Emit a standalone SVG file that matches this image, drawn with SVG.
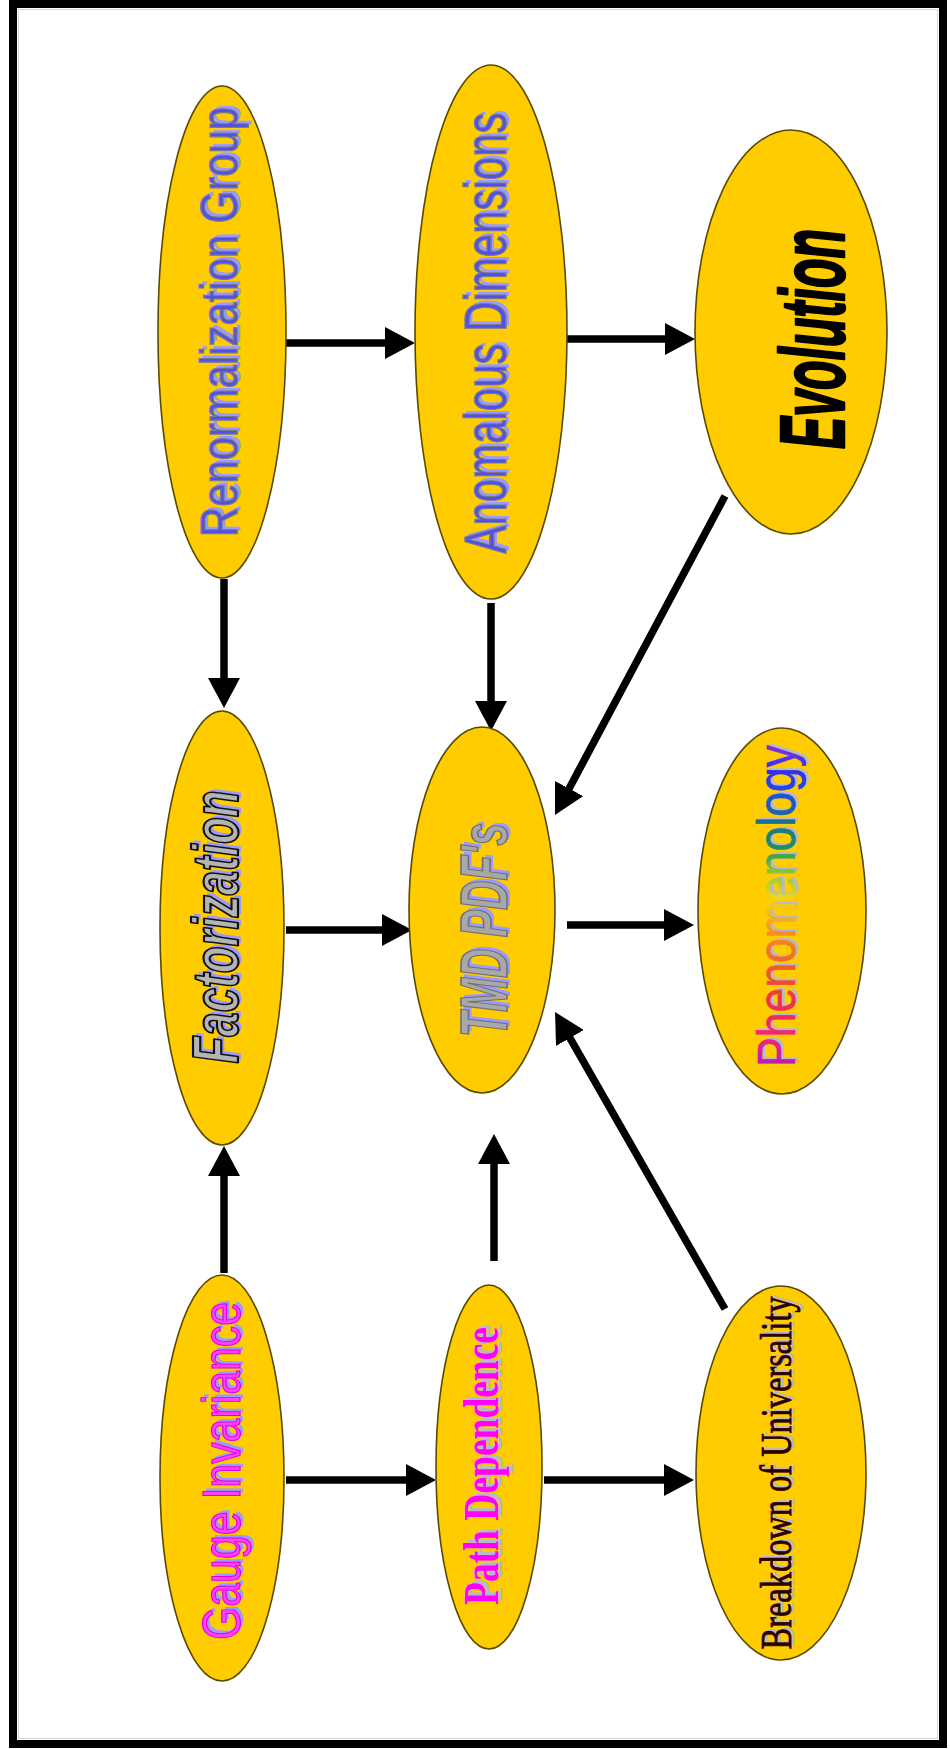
<svg xmlns="http://www.w3.org/2000/svg" width="950" height="1749" viewBox="0 0 950 1749">
<defs>
<style>
.node{fill:#ffcc00;stroke:#5a4a00;stroke-width:1.6}
.conn{stroke:#000;stroke-width:7.5;fill:none;marker-end:url(#ah)}
.arial{font-family:"Liberation Sans",Arial,sans-serif}
.times{font-family:"Liberation Serif","Times New Roman",serif}
.blue{fill:#5050e8;stroke:#7a7a8a;stroke-width:1.4}
.bshadow{fill:#9a9aff}
.gshadow{fill:#b8b8c8}
</style>
<marker id="ah" markerUnits="userSpaceOnUse" markerWidth="30" markerHeight="32" viewBox="0 0 30 32" refX="20" refY="16" orient="auto">
<path d="M0,0 L30,16 L0,32 z" fill="#000"/>
</marker>
<linearGradient id="rainbow" x1="0" y1="0" x2="1" y2="0">
<stop offset="0" stop-color="#b818c0"/>
<stop offset="0.1" stop-color="#f02878"/>
<stop offset="0.2" stop-color="#f03048"/>
<stop offset="0.3" stop-color="#f05a28"/>
<stop offset="0.42" stop-color="#f89020"/>
<stop offset="0.52" stop-color="#f0d820"/>
<stop offset="0.6" stop-color="#90c838"/>
<stop offset="0.68" stop-color="#209060"/>
<stop offset="0.76" stop-color="#1a7090"/>
<stop offset="0.84" stop-color="#2050e0"/>
<stop offset="0.92" stop-color="#3030f0"/>
<stop offset="1" stop-color="#8830d0"/>
</linearGradient>
</defs>
<rect x="0" y="0" width="950" height="1749" fill="#fff"/>
<rect x="13" y="4" width="930" height="1740" fill="none" stroke="#000" stroke-width="8"/>
<rect x="18.5" y="9.5" width="919" height="1729" fill="none" stroke="#d8d8d8" stroke-width="1"/>

<g id="connectors">
<line class="conn" x1="286" y1="343" x2="405" y2="343"/>
<line class="conn" x1="567" y1="339" x2="685" y2="339"/>
<line class="conn" x1="224" y1="579" x2="224" y2="698"/>
<line class="conn" x1="491" y1="603" x2="491" y2="721"/>
<line class="conn" x1="725" y1="496" x2="559.7" y2="806.2"/>
<line class="conn" x1="286" y1="930" x2="402" y2="930"/>
<line class="conn" x1="567" y1="925" x2="684" y2="925"/>
<line class="conn" x1="224" y1="1273" x2="224" y2="1156"/>
<line class="conn" x1="494" y1="1261" x2="494" y2="1144"/>
<line class="conn" x1="725" y1="1309" x2="560" y2="1020.7"/>
<line class="conn" x1="286" y1="1480" x2="426" y2="1480"/>
<line class="conn" x1="544" y1="1480" x2="684" y2="1480"/>
</g>

<g id="renormalization-group">
<ellipse class="node" cx="222" cy="332" rx="64" ry="246"/>
<g transform="translate(237,322) rotate(-90)" class="arial" font-size="52">
<text class="bshadow" x="3" y="3" text-anchor="middle" textLength="430" lengthAdjust="spacingAndGlyphs">Renormalization Group</text>
<text class="blue" x="0" y="0" text-anchor="middle" textLength="430" lengthAdjust="spacingAndGlyphs">Renormalization Group</text>
</g>
</g>

<g id="anomalous-dimensions">
<ellipse class="node" cx="491" cy="332" rx="76" ry="267"/>
<g transform="translate(506,333) rotate(-90)" class="arial" font-size="60">
<text class="bshadow" x="3" y="3" text-anchor="middle" textLength="441" lengthAdjust="spacingAndGlyphs">Anomalous Dimensions</text>
<text class="blue" x="0" y="0" text-anchor="middle" textLength="441" lengthAdjust="spacingAndGlyphs">Anomalous Dimensions</text>
</g>
</g>

<g id="evolution">
<ellipse class="node" cx="791" cy="332" rx="96" ry="202"/>
<g transform="translate(844,339) rotate(-90)" class="arial" font-size="90" font-weight="bold" font-style="italic">
<text x="0" y="0" fill="#000" stroke="#000" stroke-width="2.5" stroke-linejoin="round" text-anchor="middle" textLength="220" lengthAdjust="spacingAndGlyphs">Evolution</text>
</g>
</g>

<g id="factorization">
<ellipse class="node" cx="222" cy="928" rx="62" ry="217"/>
<g transform="translate(238,927) rotate(-90)" class="arial" font-size="64" font-weight="bold" font-style="italic">
<text class="bshadow" x="3" y="3" text-anchor="middle" textLength="273" lengthAdjust="spacingAndGlyphs">Factorization</text>
<text x="0" y="0" fill="#b4b4b4" stroke="#111" stroke-width="2.2" stroke-linejoin="round" text-anchor="middle" textLength="273" lengthAdjust="spacingAndGlyphs">Factorization</text>
</g>
</g>

<g id="tmd-pdfs">
<ellipse class="node" cx="482" cy="910" rx="73" ry="183"/>
<g transform="translate(507,930) rotate(-90)" class="arial" font-size="66" font-weight="bold" font-style="italic">
<text class="bshadow" x="3" y="3" text-anchor="middle" textLength="214" lengthAdjust="spacingAndGlyphs">TMD PDF's</text>
<text x="0" y="0" fill="#a8a8a8" stroke="#707070" stroke-width="1.6" text-anchor="middle" textLength="214" lengthAdjust="spacingAndGlyphs">TMD PDF's</text>
</g>
</g>

<g id="phenomenology">
<ellipse class="node" cx="782" cy="911" rx="84" ry="183"/>
<g transform="translate(795,906) rotate(-90)" class="arial" font-size="53">
<text class="gshadow" x="2" y="3" text-anchor="middle" textLength="322" lengthAdjust="spacingAndGlyphs">Phenomenology</text>
<text x="0" y="0" fill="url(#rainbow)" stroke="url(#rainbow)" stroke-width="0.6" text-anchor="middle" textLength="322" lengthAdjust="spacingAndGlyphs">Phenomenology</text>
</g>
</g>

<g id="gauge-invariance">
<ellipse class="node" cx="222" cy="1478" rx="62" ry="203"/>
<g transform="translate(240,1471) rotate(-90)" class="arial" font-size="54">
<text class="bshadow" x="3" y="3" text-anchor="middle" textLength="338" lengthAdjust="spacingAndGlyphs">Gauge Invariance</text>
<text x="0" y="0" fill="#ff40ff" stroke="#dd00dd" stroke-width="1.2" text-anchor="middle" textLength="338" lengthAdjust="spacingAndGlyphs">Gauge Invariance</text>
</g>
</g>

<g id="path-dependence">
<ellipse class="node" cx="489" cy="1467" rx="53" ry="182"/>
<g transform="translate(498,1466) rotate(-90)" class="times" font-size="50" font-weight="bold">
<text class="gshadow" x="3" y="4" text-anchor="middle" textLength="278" lengthAdjust="spacingAndGlyphs">Path Dependence</text>
<text x="0" y="0" fill="#ff00ff" text-anchor="middle" textLength="278" lengthAdjust="spacingAndGlyphs">Path Dependence</text>
</g>
</g>

<g id="breakdown-of-universality">
<ellipse class="node" cx="781" cy="1473" rx="85" ry="187"/>
<g transform="translate(791,1473) rotate(-90)" class="times" font-size="45">
<text class="gshadow" x="2" y="3" text-anchor="middle" textLength="353" lengthAdjust="spacingAndGlyphs">Breakdown of Universality</text>
<text x="0" y="0" fill="#2a0000" stroke="#2a0000" stroke-width="0.8" text-anchor="middle" textLength="353" lengthAdjust="spacingAndGlyphs">Breakdown of Universality</text>
</g>
</g>
</svg>
